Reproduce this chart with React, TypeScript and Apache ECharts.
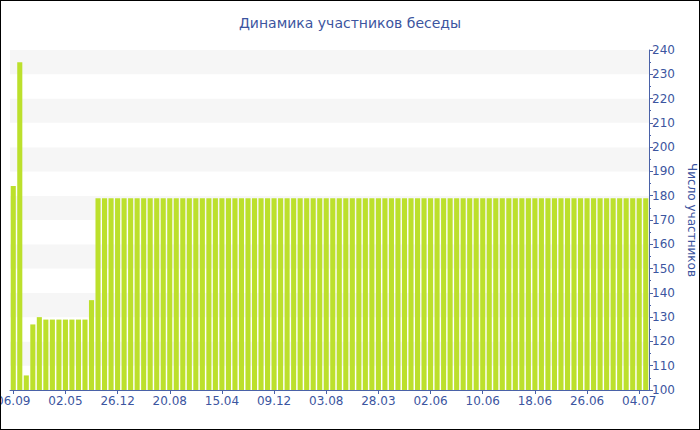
import React, { useEffect, useRef } from "react";
import * as echarts from "echarts";

const categories: string[] = [
  "06.09", "06.10", "05.11", "05.12", "04.01", "03.02", "04.03", "03.04",
  "02.05", "01.06", "01.07", "31.07", "30.08", "29.09", "28.10", "27.11",
  "26.12", "25.01", "24.02", "25.03", "24.04", "24.05", "23.06", "22.07",
  "20.08", "19.09", "19.10", "18.11", "18.12", "17.01", "16.02", "17.03",
  "15.04", "15.05", "14.06", "14.07", "12.08", "11.09", "11.10", "10.11",
  "09.12", "08.01", "07.02", "08.03", "07.04", "07.05", "06.06", "06.07",
  "03.08", "02.09", "02.10", "01.11", "30.11", "30.12", "29.01", "28.02",
  "28.03", "05.04", "13.04", "21.04", "29.04", "07.05", "15.05", "24.05",
  "02.06", "03.06", "04.06", "05.06", "06.06", "07.06", "08.06", "09.06",
  "10.06", "11.06", "12.06", "13.06", "14.06", "15.06", "16.06", "17.06",
  "18.06", "19.06", "20.06", "21.06", "22.06", "23.06", "24.06", "25.06",
  "26.06", "27.06", "28.06", "29.06", "30.06", "01.07", "02.07", "03.07",
  "04.07", "05.07",
];

const members: number[] = [
  184, 235, 106, 127, 130, 129, 129, 129,
  129, 129, 129, 129, 137, 179, 179, 179,
  179, 179, 179, 179, 179, 179, 179, 179,
  179, 179, 179, 179, 179, 179, 179, 179,
  179, 179, 179, 179, 179, 179, 179, 179,
  179, 179, 179, 179, 179, 179, 179, 179,
  179, 179, 179, 179, 179, 179, 179, 179,
  179, 179, 179, 179, 179, 179, 179, 179,
  179, 179, 179, 179, 179, 179, 179, 179,
  179, 179, 179, 179, 179, 179, 179, 179,
  179, 179, 179, 179, 179, 179, 179, 179,
  179, 179, 179, 179, 179, 179, 179, 179,
  179, 179,
];

const TITLE = "Динамика участников беседы";
const Y_NAME = "Число участников";

const AXIS_COLOR = "#4a62a8";
const TEXT_COLOR = "#3c55a0";
const BAR_COLOR = "#bce02c";
const FONT = "Verdana, 'DejaVu Sans', sans-serif";

export default function App() {
  const ref = useRef<HTMLDivElement>(null);

  useEffect(() => {
    document.body.style.margin = "0";
    if (!ref.current) return;
    const chart = echarts.init(ref.current, null, { renderer: "svg" });
    chart.setOption({
      animation: false,
      backgroundColor: "#ffffff",
      textStyle: { fontFamily: FONT },
      title: {
        text: TITLE,
        left: "center",
        top: 10,
        textStyle: {
          color: TEXT_COLOR,
          fontSize: 14,
          fontWeight: "normal",
          fontFamily: FONT,
        },
      },
      grid: {
        left: 9,
        right: 50,
        top: 49,
        bottom: 39,
        containLabel: false,
        outerBoundsMode: "none",
      },
      xAxis: {
        type: "category",
        data: categories,
        boundaryGap: true,
        axisLine: { show: true, lineStyle: { color: AXIS_COLOR, width: 1 } },
        axisTick: {
          show: true,
          alignWithLabel: true,
          interval: 7,
          length: 4,
          lineStyle: { color: AXIS_COLOR },
        },
        axisLabel: {
          interval: 7,
          color: TEXT_COLOR,
          fontSize: 12,
          fontFamily: FONT,
          margin: 5,
          hideOverlap: false,
        },
        splitLine: { show: false },
      },
      yAxis: {
        type: "value",
        position: "right",
        min: 100,
        max: 240,
        interval: 10,
        name: Y_NAME,
        nameLocation: "middle",
        nameRotate: -90,
        nameGap: 36,
        nameTextStyle: { color: TEXT_COLOR, fontSize: 12, fontFamily: FONT },
        axisLine: { show: true, lineStyle: { color: AXIS_COLOR, width: 1 } },
        axisTick: { show: true, length: 4, lineStyle: { color: AXIS_COLOR } },
        minorTick: { show: true, splitNumber: 2, length: 2, lineStyle: { color: AXIS_COLOR } },
        axisLabel: { color: TEXT_COLOR, fontSize: 12, fontFamily: FONT, margin: 3 },
        splitLine: { show: false },
        splitArea: { show: true, areaStyle: { color: ["#ffffff", "#f6f6f6"] } },
      },
      series: [
        {
          type: "bar",
          data: members,
          barCategoryGap: "22%",
          itemStyle: { color: BAR_COLOR },
        },
      ],
    });
    return () => chart.dispose();
  }, []);

  return (
    <div
      style={{
        position: "relative",
        width: 700,
        height: 430,
        boxSizing: "border-box",
        border: "1px solid #000",
        background: "#fff",
      }}
    >
      <div ref={ref} style={{ width: 698, height: 428 }} />
    </div>
  );
}
